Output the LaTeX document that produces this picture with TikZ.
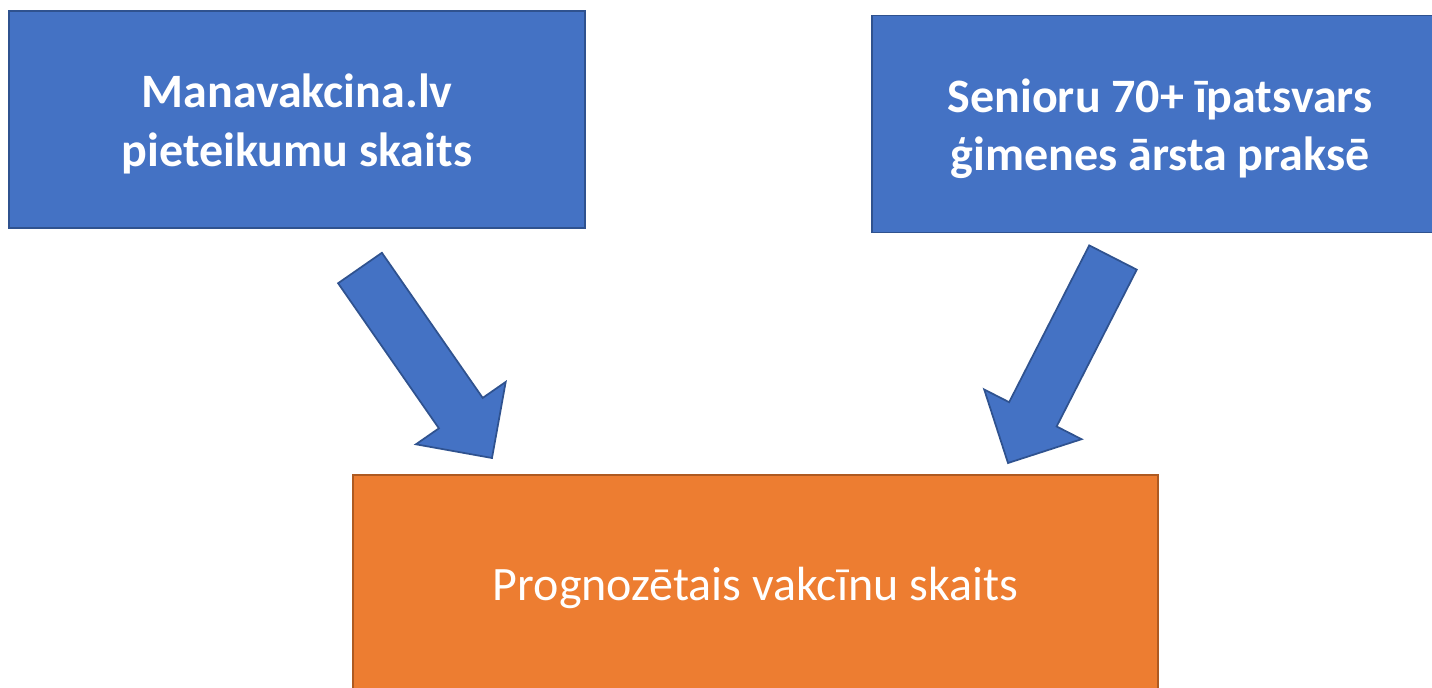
\documentclass[tikz,border=0pt]{standalone}
\usepackage{fontspec}
\setmainfont{Carlito}
\usetikzlibrary{calc}
\usetikzlibrary{positioning}

\definecolor{boxblue}{HTML}{4472C4}
\definecolor{lineblue}{HTML}{2F528F}
\definecolor{boxorange}{HTML}{ED7D31}
\definecolor{lineorange}{HTML}{AE5A21}

\tikzset{
  boxtext/.style={text=white, font=\fontsize{36}{44}\selectfont, align=center, yshift=-3.5pt},
  inbox/.style={draw=lineblue, fill=boxblue, line width=1.3pt,
    minimum width=576*0.75pt, minimum height=217*0.75pt, inner sep=0pt,
    label={[boxtext, font=\fontsize{36}{44}\selectfont\bfseries]center:#1}},
  outbox/.style={draw=lineorange, fill=boxorange, line width=1.3pt,
    minimum width=805*0.75pt, minimum height=217*0.75pt, inner sep=0pt,
    label={[boxtext]center:#1}},
  blockarrow/.style={draw=lineblue, fill=boxblue, line width=1.3pt, line join=miter}
}

% block arrow from tail centre #1 to tip #2
\newcommand{\blockarrow}[2]{%
  \coordinate (neck) at ($(#2)!41pt!(#1)$);
  \draw[blockarrow] ($(#1)!20pt!90:(#2)$) -- ($(neck)!20pt!-90:(#1)$)
    -- ($(neck)!41pt!-90:(#1)$) -- (#2) -- ($(neck)!41pt!90:(#1)$)
    -- ($(neck)!20pt!90:(#1)$) -- ($(#1)!20pt!-90:(#2)$) -- cycle;
}

\begin{document}
\begin{tikzpicture}[x=0.75pt, y=-0.75pt]
    \useasboundingbox (0,0) rectangle (1432,687);
    \clip (0,0) rectangle (1432,687);

    \node[inbox={Manavakcina.lv\\pieteikumu skaits}] (pieteikumi) at (297,119.5) {};
    \node[inbox={Senioru 70+ īpatsvars\\ģimenes ārsta praksē}] (seniori) at (1160,124) {};
    \node[outbox={Prognozētais vakcīnu skaits}] (prognoze) at (755.5,583.5) {};

    \coordinate (a1) at (360,268);
    \coordinate (b1) at (492,458);
    \coordinate (a2) at (1113,257.5);
    \coordinate (b2) at (1008,463);
    \blockarrow{a1}{b1}
    \blockarrow{a2}{b2}
\end{tikzpicture}
\end{document}
